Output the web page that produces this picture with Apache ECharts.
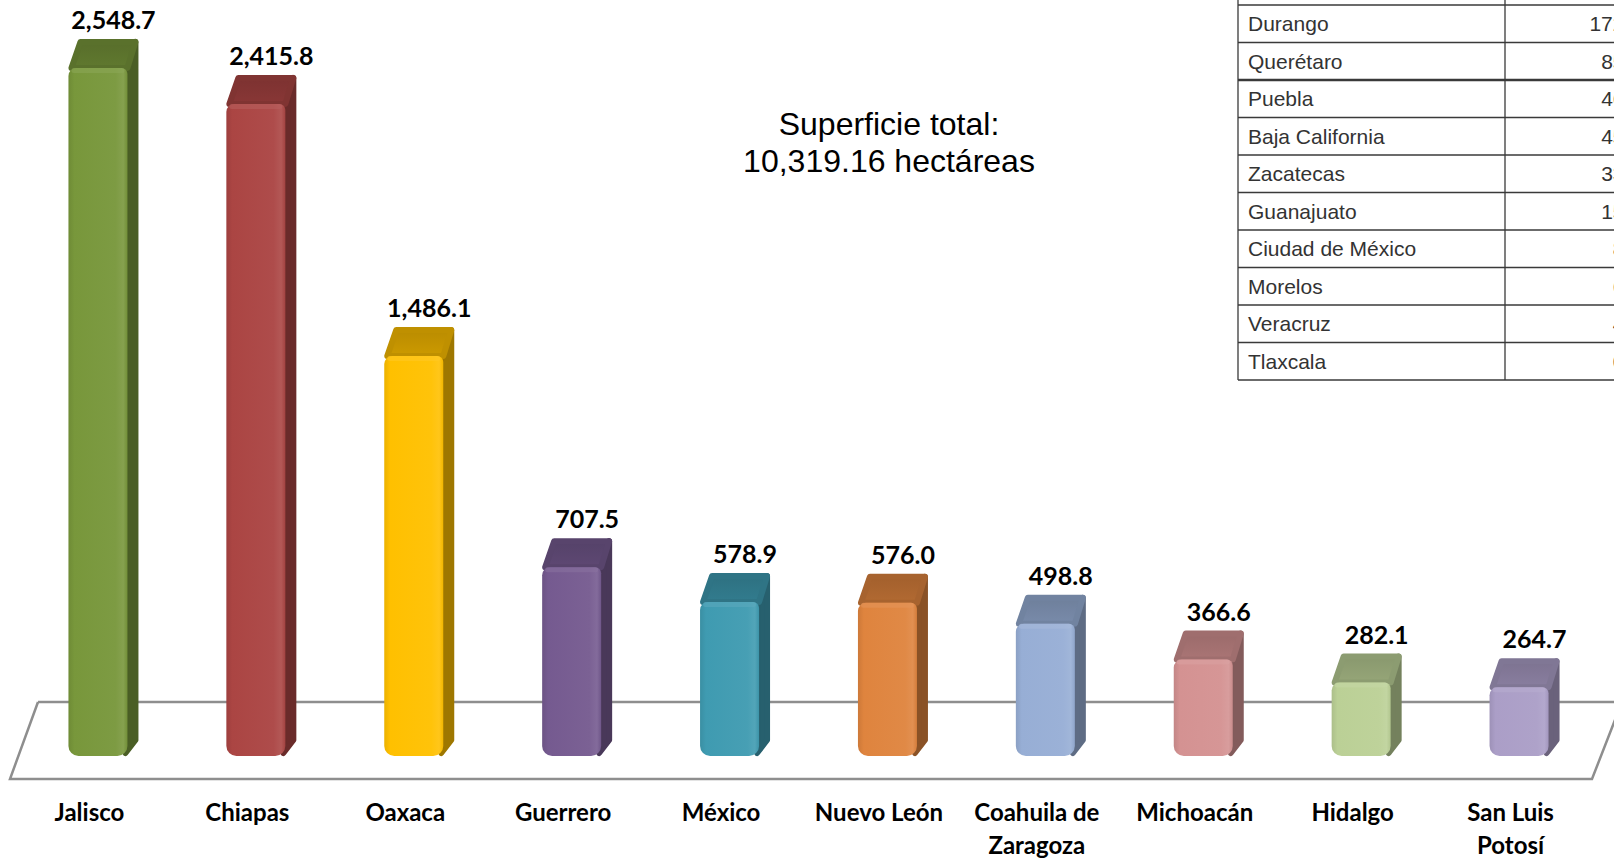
<!DOCTYPE html>
<html><head><meta charset="utf-8">
<script src="https://cdn.jsdelivr.net/npm/echarts@6/dist/echarts.min.js"></script>
<style>html,body{margin:0;padding:0;background:#fff;overflow:hidden}#c{width:1614px;height:861px}</style>
</head><body><div id="c"></div>
<script>
const categories = ['Jalisco', 'Chiapas', 'Oaxaca', 'Guerrero', 'México', 'Nuevo León', 'Coahuila de\nZaragoza', 'Michoacán', 'Hidalgo', 'San Luis\nPotosí'];
const values = [2548.7, 2415.8, 1486.1, 707.5, 578.9, 576.0, 498.8, 366.6, 282.1, 264.7];
const tableStates = ['Durango', 'Querétaro', 'Puebla', 'Baja California', 'Zacatecas', 'Guanajuato', 'Ciudad de México', 'Morelos', 'Veracruz', 'Tlaxcala'];
const tableValues = [172.9, 85.2, 46.3, 45.1, 33.6, 15.8, 8.2, 6.1, 4.5, 0.9];
const totalLines = ['Superficie total:', '10,319.16 hectáreas'];

const barColors = ['#78973b', '#ab4543', '#ffc000', '#755a90', '#3f9bb1', '#df843e', '#97aed5', '#d49292', '#bbd096', '#ab9ec7'];

function shade(hex, f) {
  const n = parseInt(hex.slice(1), 16);
  let r = (n >> 16) & 255, g = (n >> 8) & 255, b = n & 255;
  if (f < 0) { r = r * (1 + f); g = g * (1 + f); b = b * (1 + f); }
  else { r = r + (255 - r) * f; g = g + (255 - g) * f; b = b + (255 - b) * f; }
  return 'rgb(' + Math.round(r) + ',' + Math.round(g) + ',' + Math.round(b) + ')';
}
const fmt = v => v.toLocaleString('en-US', { minimumFractionDigits: 1, maximumFractionDigits: 1 });

const chart = echarts.init(document.getElementById('c'), null, { renderer: 'svg' });

// table graphics
const tbl = [];
const tX0 = 1238, tX1 = 1505, tX2 = 1700, tY0 = 5, rowH = 37.5;
const lineCol = '#3a3a3a';
for (let k = 0; k <= tableStates.length; k++) {
  const y = tY0 + k * rowH;
  tbl.push({ type: 'line', shape: { x1: tX0, y1: y, x2: tX2, y2: y }, style: { stroke: lineCol, lineWidth: k === 2 ? 2.5 : 1.3 } });
}
[tX0, tX1].forEach(x => tbl.push({ type: 'line', shape: { x1: x, y1: -10, x2: x, y2: tY0 + tableStates.length * rowH }, style: { stroke: lineCol, lineWidth: 1.3 } }));
tableStates.forEach((s, k) => {
  const yc = tY0 + k * rowH + rowH / 2;
  tbl.push({ type: 'text', style: { text: s, x: tX0 + 10, y: yc, align: 'left', verticalAlign: 'middle', fontFamily: 'Liberation Sans', fontSize: 21, fill: '#333' } });
  tbl.push({ type: 'text', style: { text: fmt(tableValues[k]), x: 1642, y: yc, align: 'right', verticalAlign: 'middle', fontFamily: 'Liberation Sans', fontSize: 21, fill: '#333' } });
});

const option = {
  backgroundColor: '#fff',
  animation: false,
  grid: { left: 10.5, width: 1579, top: 24, bottom: 131, containLabel: false },
  xAxis: {
    type: 'category', data: categories,
    axisLine: { show: false }, axisTick: { show: false },
    axisLabel: { interval: 0, margin: 66, fontFamily: 'Lato', fontWeight: 'bold', fontSize: 24, lineHeight: 33, color: '#000' }
  },
  yAxis: { type: 'value', min: 0, max: 2600, show: false, splitLine: { show: false } },
  graphic: [
    { type: 'polyline', z: 0, shape: { points: [[38, 702], [1630, 702]] }, style: { stroke: '#8e8e8e', lineWidth: 2.5, fill: null } },
    { type: 'polyline', z: 0, shape: { points: [[38, 702], [10, 779], [1592, 779], [1622, 702]] }, style: { stroke: '#8e8e8e', lineWidth: 2.5, fill: null, lineJoin: 'miter' } },
    { type: 'text', z: 5, style: { text: totalLines.join('\n'), x: 889, y: 142, align: 'center', verticalAlign: 'middle', fontFamily: 'Liberation Sans', fontSize: 32, lineHeight: 37, fill: '#000' } },
    { type: 'group', z: 5, children: tbl }
  ],
  series: [{
    type: 'custom', z: 3,
    data: values.map((v, i) => [i, v]),
    encode: { x: 0, y: 1 },
    renderItem(params, api) {
      const i = api.value(0), v = api.value(1);
      const t = api.coord([i, v]), b = api.coord([i, 0]);
      const cx = t[0], yT = t[1] + 1, yB = b[1] + 27;
      const x0 = cx - 21, x1 = cx + 38, dx = 11, dy = 29, s = 3;
      const c = barColors[i];
      const side = shade(c, -0.38), topc = shade(c, -0.2);
      const front = new echarts.graphic.LinearGradient(0, 0, 1, 0, [
        { offset: 0, color: shade(c, -0.08) },
        { offset: 0.1, color: c },
        { offset: 0.8, color: shade(c, 0.04) },
        { offset: 0.93, color: shade(c, 0.1) },
        { offset: 1, color: shade(c, -0.05) }
      ]);
      return {
        type: 'group',
        children: [
          { type: 'polygon', shape: { points: [[x1 - 2, yT + dy], [x1 + dx - s, yT + s], [x1 + dx - s, yB - 16], [x1 - 2, yB - s]] },
            style: { fill: side, stroke: side, lineWidth: 2 * s, lineJoin: 'round' } },
          { type: 'polygon', shape: { points: [[x0 + s, yT + dy], [x0 + dx + s - 2, yT + s], [x1 + dx - s, yT + s], [x1, yT + dy]] },
            style: { fill: new echarts.graphic.LinearGradient(0, 0, 0, 1, [{ offset: 0, color: shade(c, -0.27) }, { offset: 1, color: topc }]), stroke: shade(c, -0.25), lineWidth: 2 * s, lineJoin: 'round' } },
          { type: 'rect', shape: { x: x0, y: yT + dy, width: x1 - x0, height: yB - yT - dy, r: [8, 6, 10, 10] }, style: { fill: front } },
          { type: 'rect', shape: { x: x0 + 3, y: yT + dy, width: x1 - x0 - 6, height: 5, r: 3 }, style: { fill: shade(c, 0.15), opacity: 0.55 } },
          { type: 'text', style: { text: fmt(v), x: cx + 24, y: t[1] - 19, align: 'center', verticalAlign: 'middle', fontFamily: 'Lato', fontWeight: 'bold', fontSize: 25, fill: '#000' } }
        ]
      };
    }
  }]
};
chart.setOption(option);
</script>
</body></html>
